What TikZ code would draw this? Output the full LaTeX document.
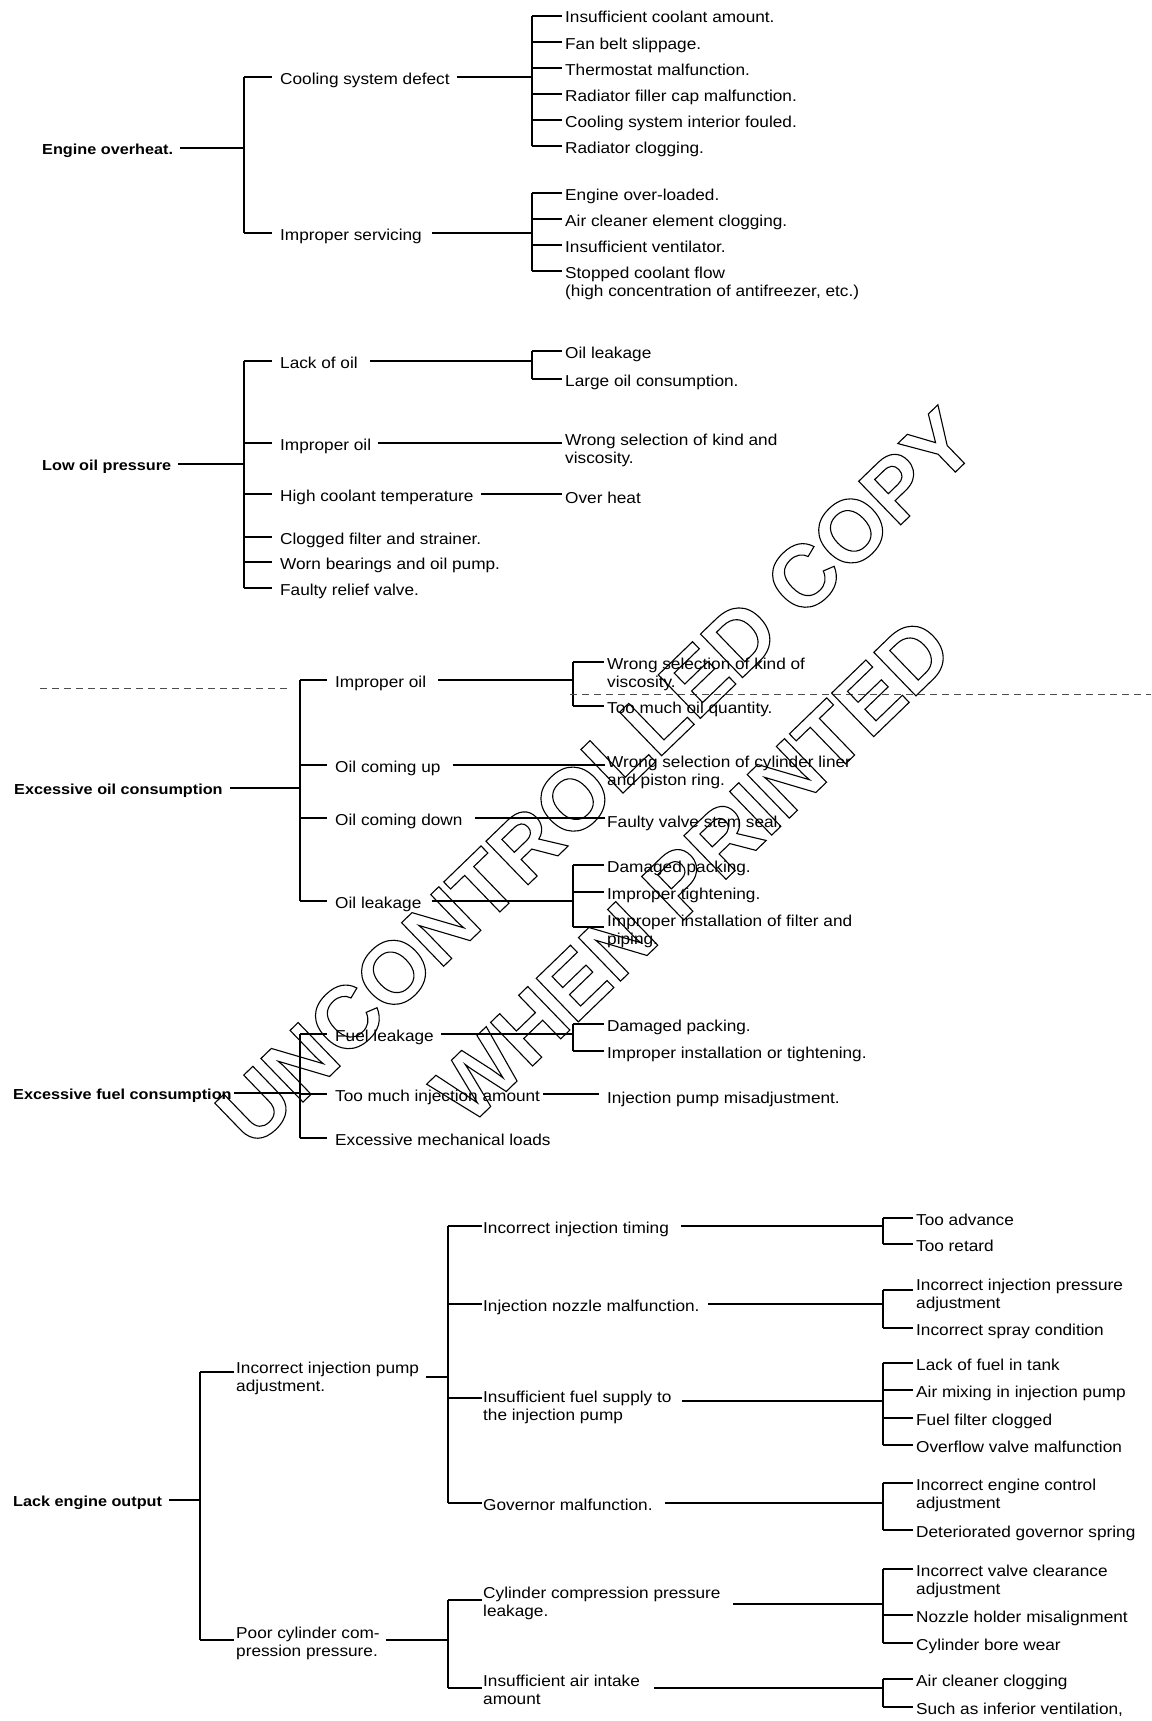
\documentclass[tikz,border=0pt]{standalone}
\usepackage{fontspec}
\setmainfont{Liberation Sans}
\newfontfamily\bodyfont[FakeStretch=1.09]{Liberation Sans}
\newfontfamily\headfont[FakeStretch=1.12]{Liberation Sans}
\newfontfamily\markfont{Liberation Sans}
\usetikzlibrary{calc}
% two-line label whose baseline is that of its first line
\newcommand{\tworows}[2]{\begin{tabular}[t]{@{}l@{}}#1\\#2\end{tabular}}
% glyph outlines only (PDF text render mode 1)
\newcommand{\hollow}[1]{\special{pdf:literal direct 1 Tr 1.1 w}#1\special{pdf:literal direct 0 Tr}}

\begin{document}
\begin{tikzpicture}[x=1pt,y=-1pt,
  lbl/.style={anchor=west,inner sep=0pt,text height=14pt,text depth=0pt,
    font=\bodyfont\fontsize{15.8}{18.7}\selectfont},
  head/.style={anchor=west,inner sep=0pt,text height=13pt,text depth=0pt,
    font=\headfont\bfseries\fontsize{14.5}{17}\selectfont},
  wire/.style={line width=1.4pt},
  outwire/.style={wire,shorten <=7pt},
  kidwire/.style={wire,shorten >=8pt},
  leafwire/.style={wire,shorten >=3pt},
  wm/.style={inner sep=0pt,rotate=44,font=\markfont\bfseries\fontsize{88}{100}\selectfont},
  scanline/.style={line width=0.7pt,dash pattern=on 7pt off 5pt,black!70}]

\fill[white] (0,0) rectangle (1151,1721);
\useasboundingbox (0,0) rectangle (1151,1721);

% ---------------- Engine overheat ----------------
\node[head] (eo) at (42,148) {Engine overheat.};
\node[lbl] (csd) at (280,77) {Cooling system defect};
\node[lbl] (isv) at (280,233) {Improper servicing};
\node[lbl] (a1) at (565,16) {Insufficient coolant amount.};
\node[lbl] (a2) at (565,42) {Fan belt slippage.};
\node[lbl] (a3) at (565,68) {Thermostat malfunction.};
\node[lbl] (a4) at (565,94) {Radiator filler cap malfunction.};
\node[lbl] (a5) at (565,120) {Cooling system interior fouled.};
\node[lbl] (a6) at (565,146) {Radiator clogging.};
\node[lbl] (b1) at (565,193) {Engine over-loaded.};
\node[lbl] (b2) at (565,219) {Air cleaner element clogging.};
\node[lbl] (b3) at (565,245) {Insufficient ventilator.};
\node[lbl] (b4) at (565,271) {\tworows{Stopped coolant flow}{(high concentration of antifreezer, etc.)}};

\coordinate (s1) at (244,0);
\coordinate (s2) at (532,0);
\draw[outwire] (eo.east) -- (s1 |- eo.east);
\draw[wire] (s1 |- csd.west) -- (s1 |- isv.west);
\foreach \n in {csd,isv} \draw[kidwire] (s1 |- \n.west) -- (\n.west);
\draw[outwire] (csd.east) -- (s2 |- csd.east);
\draw[wire] (s2 |- a1.west) -- (s2 |- a6.west);
\foreach \n in {a1,a2,a3,a4,a5,a6} \draw[leafwire] (s2 |- \n.west) -- (\n.west);
\draw[outwire,shorten <=10pt] (isv.east) -- (s2 |- isv.east);
\draw[wire] (s2 |- b1.west) -- (s2 |- b4.west);
\foreach \n in {b1,b2,b3,b4} \draw[leafwire] (s2 |- \n.west) -- (\n.west);

% ---------------- Low oil pressure ----------------
\node[head] (lop) at (42,464) {Low oil pressure};
\node[lbl] (loo) at (280,361) {Lack of oil};
\node[lbl] (iop) at (280,443) {Improper oil};
\node[lbl] (hct) at (280,494) {High coolant temperature};
\node[lbl] (cfs) at (280,537) {Clogged filter and strainer.};
\node[lbl] (wbo) at (280,562) {Worn bearings and oil pump.};
\node[lbl] (frv) at (280,588) {Faulty relief valve.};
\node[lbl] (c1) at (565,351) {Oil leakage};
\node[lbl] (c2) at (565,379) {Large oil consumption.};
\node[lbl] (wsk) at (565,438) {\tworows{Wrong selection of kind and}{viscosity.}};
\node[lbl] (oh) at (565,496) {Over heat};

\coordinate (s4) at (244,0);
\coordinate (s5) at (532,0);
\draw[outwire] (lop.east) -- (s4 |- lop.east);
\draw[wire] (s4 |- loo.west) -- (s4 |- frv.west);
\foreach \n in {loo,iop,hct,cfs,wbo,frv} \draw[kidwire] (s4 |- \n.west) -- (\n.west);
\draw[outwire,shorten <=12pt] (loo.east) -- (s5 |- loo.east);
\draw[wire] (s5 |- c1.west) -- (s5 |- c2.west);
\foreach \n in {c1,c2} \draw[leafwire] (s5 |- \n.west) -- (\n.west);
\draw[outwire,shorten >=3pt] (iop.east) -- (wsk.west |- iop.east);
\draw[outwire,shorten >=3pt] (hct.east) -- (oh.west |- hct.east);

% ---------------- Excessive oil consumption ----------------
\node[head] (eoc) at (14,788) {Excessive oil consumption};
\node[lbl] (iop2) at (335,680) {Improper oil};
\node[lbl] (ocu) at (335,765) {Oil coming up};
\node[lbl] (ocd) at (335,818) {Oil coming down};
\node[lbl] (olk) at (335,901) {Oil leakage};
\node[lbl] (d1) at (607,662) {\tworows{Wrong selection of kind of}{viscosity.}};
\node[lbl] (d2) at (607,706) {Too much oil quantity.};
\node[lbl] (e1) at (607,760) {\tworows{Wrong selection of cylinder liner}{and piston ring.}};
\node[lbl] (e2) at (607,820) {Faulty valve stem seal.};
\node[lbl] (f1) at (607,865) {Damaged packing.};
\node[lbl] (f2) at (607,892) {Improper tightening.};
\node[lbl] (f3) at (607,919) {\tworows{Improper installation of filter and}{piping.}};
\coordinate (f3j) at ($(f3.west)+(0,8)$);

\coordinate (s6) at (300,0);
\coordinate (s7) at (573,0);
\draw[outwire] (eoc.east) -- (s6 |- eoc.east);
\draw[wire] (s6 |- iop2.west) -- (s6 |- olk.west);
\foreach \n in {iop2,ocu,ocd,olk} \draw[kidwire] (s6 |- \n.west) -- (\n.west);
\draw[outwire,shorten <=12pt] (iop2.east) -- (s7 |- iop2.east);
\draw[wire] (s7 |- d1.west) -- (s7 |- d2.west);
\foreach \n in {d1,d2} \draw[leafwire] (s7 |- \n.west) -- (\n.west);
\draw[outwire,shorten <=12pt,shorten >=2pt] (ocu.east) -- (e1.west |- ocu.east);
\draw[outwire,shorten <=12pt,shorten >=2pt] (ocd.east) -- (e2.west |- ocd.east);
\draw[outwire,shorten <=10pt] (olk.east) -- (s7 |- olk.east);
\draw[wire] (s7 |- f1.west) -- (s7 |- f3j);
\foreach \n in {f1,f2} \draw[leafwire] (s7 |- \n.west) -- (\n.west);
\draw[leafwire] (s7 |- f3j) -- (f3j);

% ---------------- Excessive fuel consumption ----------------
\node[head] (efc) at (13,1093) {Excessive fuel consumption};
\node[lbl] (flk) at (335,1034) {Fuel leakage};
\node[lbl] (tmi) at (335,1094) {Too much injection amount};
\node[lbl] (eml) at (335,1138) {Excessive mechanical loads};
\node[lbl] (g1) at (607,1024) {Damaged packing.};
\node[lbl] (g2) at (607,1051) {Improper installation or tightening.};
\node[lbl] (h1) at (607,1096) {Injection pump misadjustment.};

\coordinate (s9) at (300,0);
\coordinate (s10) at (573,0);
\draw[wire,shorten <=2pt] (efc.east) -- (s9 |- efc.east);
\draw[wire] (s9 |- flk.west) -- (s9 |- eml.west);
\foreach \n in {flk,tmi,eml} \draw[kidwire] (s9 |- \n.west) -- (\n.west);
\draw[outwire] (flk.east) -- (s10 |- flk.east);
\draw[wire] (s10 |- g1.west) -- (s10 |- g2.west);
\foreach \n in {g1,g2} \draw[leafwire] (s10 |- \n.west) -- (\n.west);
\draw[wire,shorten <=3pt,shorten >=8pt] (tmi.east) -- (h1.west |- tmi.east);

% ---------------- Lack engine output ----------------
\node[head] (leo) at (13,1500) {Lack engine output};
\node[lbl] (iip) at (236,1366) {\tworows{Incorrect injection pump}{adjustment.}};
\node[lbl] (pcc) at (236,1631) {\tworows{Poor cylinder com-}{pression pressure.}};
\node[lbl] (iit) at (483,1226) {Incorrect injection timing};
\node[lbl] (inm) at (483,1304) {Injection nozzle malfunction.};
\node[lbl] (ifs) at (483,1395) {\tworows{Insufficient fuel supply to}{the injection pump}};
\node[lbl] (gvm) at (483,1503) {Governor malfunction.};
\node[lbl] (ccp) at (483,1591) {\tworows{Cylinder compression pressure}{leakage.}};
\node[lbl] (iai) at (483,1679) {\tworows{Insufficient air intake}{amount}};
\node[lbl] (k1) at (916,1218) {Too advance};
\node[lbl] (k2) at (916,1244) {Too retard};
\node[lbl] (m1) at (916,1283) {\tworows{Incorrect injection pressure}{adjustment}};
\node[lbl] (m2) at (916,1328) {Incorrect spray condition};
\node[lbl] (n1) at (916,1363) {Lack of fuel in tank};
\node[lbl] (n2) at (916,1390) {Air mixing in injection pump};
\node[lbl] (n3) at (916,1418) {Fuel filter clogged};
\node[lbl] (n4) at (916,1445) {Overflow valve malfunction};
\node[lbl] (p1) at (916,1483) {\tworows{Incorrect engine control}{adjustment}};
\node[lbl] (p2) at (916,1530) {Deteriorated governor spring};
\node[lbl] (q1) at (916,1569) {\tworows{Incorrect valve clearance}{adjustment}};
\node[lbl] (q2) at (916,1615) {Nozzle holder misalignment};
\node[lbl] (q3) at (916,1643) {Cylinder bore wear};
\node[lbl] (r1) at (916,1679) {Air cleaner clogging};
\node[lbl] (r2) at (916,1707) {Such as inferior ventilation,};

% junction points of the two-line labels
\coordinate (iipj) at ($(iip.west)+(0,6)$);
\coordinate (iipo) at ($(iip.east)+(0,11)$);
\coordinate (pccj) at ($(pcc.west)+(0,9)$);
\coordinate (pcco) at ($(pcc.east)+(0,9)$);
\coordinate (ifsj) at ($(ifs.west)+(0,3)$);
\coordinate (ifso) at ($(ifs.east)+(0,6)$);
\coordinate (ccpj) at ($(ccp.west)+(0,9)$);
\coordinate (ccpo) at ($(ccp.east)+(0,13)$);
\coordinate (iaij) at ($(iai.west)+(0,9)$);
\coordinate (iaio) at ($(iai.east)+(0,9)$);
\coordinate (m1j) at ($(m1.west)+(0,7)$);

\coordinate (s11) at (200,0);
\coordinate (s12) at (448,0);
\coordinate (s17) at (448,0);
\coordinate (s13) at (883,0);

\draw[outwire] (leo.east) -- (s11 |- leo.east);
\draw[wire] (s11 |- iipj) -- (s11 |- pccj);
\draw[wire,shorten >=2pt] (s11 |- iipj) -- (iipj);
\draw[wire,shorten >=2pt] (s11 |- pccj) -- (pccj);

% injection pump branch
\draw[outwire] (iipo) -- (s12 |- iipo);
\draw[wire] (s12 |- iit.west) -- (s12 |- gvm.west);
\draw[wire,shorten >=1pt] (s12 |- iit.west) -- (iit.west);
\draw[wire,shorten >=1pt] (s12 |- inm.west) -- (inm.west);
\draw[wire,shorten >=1pt] (s12 |- ifsj) -- (ifsj);
\draw[wire,shorten >=1pt] (s12 |- gvm.west) -- (gvm.west);

\draw[outwire,shorten <=12pt] (iit.east) -- (s13 |- iit.east);
\draw[wire] (s13 |- k1.west) -- (s13 |- k2.west);
\foreach \n in {k1,k2} \draw[leafwire] (s13 |- \n.west) -- (\n.west);

\draw[outwire,shorten <=8pt] (inm.east) -- (s13 |- inm.east);
\draw[wire] (s13 |- m1j) -- (s13 |- m2.west);
\draw[leafwire] (s13 |- m1j) -- (m1j);
\draw[leafwire] (s13 |- m2.west) -- (m2.west);

\draw[outwire,shorten <=10pt] (ifso) -- (s13 |- ifso);
\draw[wire] (s13 |- n1.west) -- (s13 |- n4.west);
\foreach \n in {n1,n2,n3,n4} \draw[leafwire] (s13 |- \n.west) -- (\n.west);

\draw[outwire,shorten <=12pt] (gvm.east) -- (s13 |- gvm.east);
\draw[wire] (s13 |- p1.west) -- (s13 |- p2.west);
\foreach \n in {p1,p2} \draw[leafwire] (s13 |- \n.west) -- (\n.west);

% compression branch
\draw[outwire,shorten <=6pt] (pcco) -- (s17 |- pcco);
\draw[wire] (s17 |- ccpj) -- (s17 |- iaij);
\draw[wire,shorten >=1pt] (s17 |- ccpj) -- (ccpj);
\draw[wire,shorten >=1pt] (s17 |- iaij) -- (iaij);

\draw[outwire,shorten <=12pt] (ccpo) -- (s13 |- ccpo);
\draw[wire] (s13 |- q1.west) -- (s13 |- q3.west);
\foreach \n in {q1,q2,q3} \draw[leafwire] (s13 |- \n.west) -- (\n.west);

\draw[outwire,shorten <=14pt] (iaio) -- (s13 |- iaio);
\draw[wire] (s13 |- r1.west) -- (s13 |- r2.west);
\foreach \n in {r1,r2} \draw[leafwire] (s13 |- \n.west) -- (\n.west);

% ---------------- faint ruled line across the sheet ----------------
\coordinate (ra) at (40,688);
\coordinate (rb) at (290,688);
\coordinate (rc) at (570,694);
\coordinate (rd) at (1151,694);
\draw[scanline] (ra) -- (rb);
\draw[scanline] (rc) -- (rd);

% ---------------- stamp ----------------
\node[wm] (stamp1) at (596,777) {\hollow{UNCONTROLLED COPY}};
\node[wm] (stamp2) at (692,870) {\hollow{WHEN PRINTED}};

\end{tikzpicture}
\end{document}
